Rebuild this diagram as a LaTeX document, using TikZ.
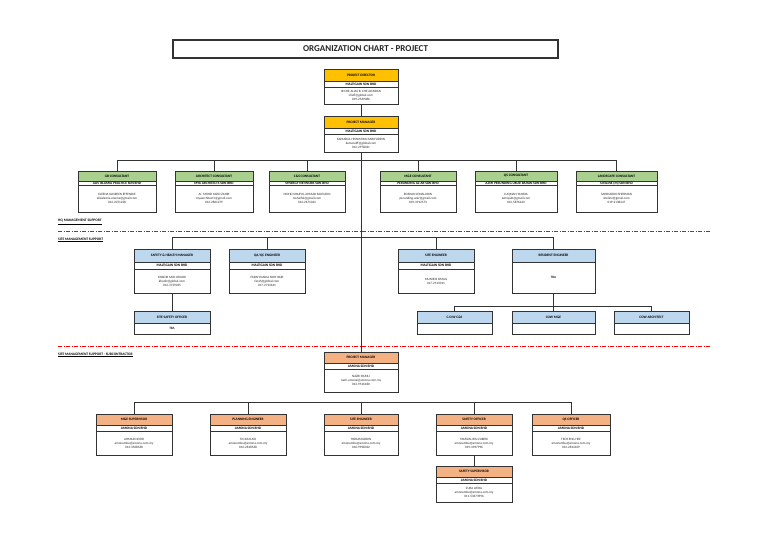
\documentclass[tikz,border=0pt]{standalone}
\usepackage{fontspec}
\setmainfont{Carlito}
\usetikzlibrary{fit}
\definecolor{hyel}{HTML}{FFC000}
\definecolor{hgrn}{HTML}{A9D08E}
\definecolor{hblu}{HTML}{BDD7EE}
\definecolor{horg}{HTML}{F4B183}
\definecolor{linec}{HTML}{333333}
\definecolor{divred}{HTML}{FF0000}
\tikzset{
 hdrtxt/.style={font=\fontsize{3.5}{4}\selectfont\bfseries, inner sep=0pt, text=black},
 comptxt/.style={font=\fontsize{3.5}{4}\selectfont\bfseries, inner sep=0pt, text=black},
 bodytxt/.style={font=\fontsize{3.3}{4}\selectfont, align=center, inner sep=0pt, text=black!85},
 conn/.style={draw=linec, line width=0.9pt},
 sect/.style={font=\fontsize{3.6}{4}\selectfont\bfseries, anchor=west, inner sep=0pt},
 redline/.style={draw=divred, line width=1pt, dash pattern=on 4pt off 1.5pt on 1pt off 1.5pt},
 outer/.style={draw=linec, line width=0.8pt, inner sep=0pt},
}
\def\HdrH{12}\def\CmpH{6}
% #1 name #2 x1 #3 x2 #4 y1 #5 y2 #6 colour #7 title #8 company #9 body
\newcommand\obox[9]{%
 \node[outer, fit={(#2,#4) (#3,#5)}] (#1) {};
 \fill[#6] (#2,#4) rectangle (#3,{#4+\HdrH});
 \draw[linec, line width=0.6pt] (#2,{#4+\HdrH}) -- (#3,{#4+\HdrH});
 \node[hdrtxt] (#1-t) at ({(#2+#3)/2},{#4+\HdrH/2}) {#7};
 \if\relax\detokenize{#8}\relax
   \node[bodytxt] (#1-b) at ({(#2+#3)/2},{(#4+\HdrH+#5)/2}) {#9};
 \else
   \draw[linec, line width=1pt] (#2,{#4+\HdrH+\CmpH}) -- (#3,{#4+\HdrH+\CmpH});
   \node[comptxt] (#1-c) at ({(#2+#3)/2},{#4+\HdrH+\CmpH/2}) {#8};
   \node[bodytxt] (#1-b) at ({(#2+#3)/2},{(#4+\HdrH+\CmpH+#5)/2}) {#9};
 \fi
 \draw[linec, line width=0.8pt] (#2,#4) rectangle (#3,#5);
}
\begin{document}
\begin{tikzpicture}[x=1pt,y=-1pt]
\useasboundingbox[fill=white] (0,0) rectangle (768,543);

% title
\node[draw=linec, line width=1.1pt, inner sep=0pt, fit={(173,40) (558,58)}] (title) {};
\node[font=\fontsize{9}{10}\selectfont\bfseries, text=black!85, inner sep=0pt] (titletxt) at (title.center) {ORGANIZATION CHART - PROJECT};

% top
\def\HdrH{12}\def\CmpH{6}
\obox{pd}{324}{398}{69}{104}{hyel}{PROJECT DIRECTOR}{MALTIGAIN SDN BHD}{IR CHE ALIAS B. CHE JAMIDAN\\chefl@global.com\\019-2569086}
\obox{pm}{324}{398}{116}{152}{hyel}{PROJECT MANAGER}{MALTIGAIN SDN BHD}{KAMARUL HISYAM BIN SARIFUDDIN\\kamarulff@global.com\\012-2978031}

% consultants
\def\HdrH{10}\def\CmpH{4.5}
\obox{c1}{78}{156}{171}{212}{hgrn}{GB CONSULTANT}{ALIS ISLAMIA PRACTICE SDN BHD}{ELEENA NASREEN EFFENDIE\\alisislamia.eleena@gmail.com\\012-2071228}
\obox{c2}{175}{253}{171}{212}{hgrn}{ARCHITECT CONSULTANT}{MYA ARCHITECTS SDN BHD}{Ar. MOHD YAZID ZAHIR\\myaarchitect1@gmail.com\\012-2801279}
\obox{c3}{269}{345}{171}{212}{hgrn}{C\&S CONSULTANT}{SYNERGY NETWORK SDN BHD}{MOHD SHAIFUL AHMAD SALEUDIN\\mshaiful@gmail.com\\012-2671024}
\obox{c4}{380}{456}{171}{212}{hgrn}{M\&E CONSULTANT}{PERUNDING AZ-AR SDN BHD}{ROSHAN JEMALUDIN\\perunding.azar@gmail.com\\019-3912573}
\obox{c5}{475}{557}{171}{212}{hgrn}{QS CONSULTANT}{AZMI PERUNDING UKUR BAHAN SDN BHD}{LUQMAN YAHAYA\\azmipub@gmail.com\\012-5876443}
\obox{c6}{576}{657}{171}{212}{hgrn}{LANDSCAPE CONSULTANT}{SITELINE (M) SDN BHD}{SAHRUDDIN SHERMAN\\siteline@gmail.com\\019-2138447}

% section labels
\node[sect] (lblhq) at (58,222) {\underline{HQ MANAGEMENT SUPPORT}};
\node[sect] (lblsite) at (58,240) {\underline{SITE MANAGEMENT SUPPORT}};
\node[sect] (lblsub) at (58,355) {\underline{SITE MANAGEMENT SUPPORT - SUBCONTRACTOR}};

% site management
\def\HdrH{13.5}\def\CmpH{6.5}
\obox{sh}{134}{210}{249}{293}{hblu}{SAFETY \& HEALTH MANAGER}{MALTIGAIN SDN BHD}{KHADIR SAID JOHARI\\khadir@global.com\\012-3759035}
\obox{qa}{229}{305}{249}{293}{hblu}{QA/QC ENGINEER}{MALTIGAIN SDN BHD}{FARAH NADIA NOR HARI\\farah@global.com\\017-2723441}
\obox{se}{398}{474}{249}{293}{hblu}{SITE ENGINEER}{MALTIGAIN SDN BHD}{MUNIR B ISMAIL\\017-2513011}
\obox{re}{512}{595}{249}{293}{hblu}{RESIDENT ENGINEER}{}{\textbf{TBA}}
\def\HdrH{12}
\obox{sso}{134}{210}{311}{334}{hblu}{SITE SAFETY OFFICER}{}{\textbf{TBA}}
\obox{cow1}{417}{492}{311}{334}{hblu}{C.O.W C\&S}{}{}
\obox{cow2}{512}{595}{311}{334}{hblu}{COW M\&E}{}{}
\obox{cow3}{614}{689}{311}{334}{hblu}{COW ARCHITECT}{}{}

% subcontractor
\def\HdrH{11}\def\CmpH{6}
\obox{spm}{324}{398}{352}{392}{horg}{PROJECT MANAGER}{AMONA SDN BHD}{NAZRI RAMLI\\nazri.amona@amona.com.my\\012-9516180}
\obox{b1}{96}{172}{414}{455}{horg}{M\&E SUPERVISOR}{AMONA SDN BHD}{AHMAD NOOR\\amonamba@amona.com.my\\013-3508568}
\obox{b2}{210}{286}{414}{455}{horg}{PLANNING ENGINEER}{AMONA SDN BHD}{TIO KAH AIK\\amonamba@amona.com.my\\012-2818568}
\obox{b3}{324}{398}{414}{455}{horg}{SITE ENGINEER}{AMONA SDN BHD}{HISHAMUDDIN\\amonamba@amona.com.my\\016-9928322}
\obox{b4}{436}{512}{414}{455}{horg}{SAFETY OFFICER}{AMONA SDN BHD}{SYAFIZAL BIN ZUBERI\\amonamba@amona.com.my\\019-3397996}
\obox{b5}{532}{610}{414}{455}{horg}{QS OFFICER}{AMONA SDN BHD}{TECH ENG HEE\\amonamba@amona.com.my\\012-2814109}
\obox{ss}{436}{512}{466}{502}{horg}{SAFETY SUPERVISOR}{AMONA SDN BHD}{ZURA AFIRA\\amonamba@amona.com.my\\011-53373996}

% connectors
\coordinate (cbus) at (361,160);
\coordinate (sbus) at (361,237);
\coordinate (rbus) at (553,306);
\coordinate (bbus) at (361,402);
\draw[conn] (pd.south) -- (pm.north);
\draw[conn] (pm.south) -- (spm.north);
\draw[conn] (c1.north) -- (c1.north|-cbus) -- (c6.north|-cbus) -- (c6.north);
\foreach \n in {c2,c3,c4,c5} \draw[conn] (\n.north) -- (\n.north|-cbus);
\draw[conn] (sh.north) -- (sh.north|-sbus) -- (re.north|-sbus) -- (re.north);
\foreach \n in {qa,se} \draw[conn] (\n.north) -- (\n.north|-sbus);
\draw[conn] (sh.south) -- (sso.north);
\draw[conn] (re.south) -- (re.south|-rbus);
\draw[conn] (cow1.north) -- (cow1.north|-rbus) -- (cow3.north|-rbus) -- (cow3.north);
\draw[conn] (cow2.north) -- (cow2.north|-rbus);
\draw[conn] (b1.north) -- (b1.north|-bbus) -- (b5.north|-bbus) -- (b5.north);
\foreach \n in {b2,b3,b4} \draw[conn] (\n.north) -- (\n.north|-bbus);
\draw[conn] (b4.south) -- (ss.north);

% red dividers (on top)
\coordinate (r1a) at (58,231.5); \coordinate (r1b) at (710,231.5);
\coordinate (r2a) at (58,346.5); \coordinate (r2b) at (710,346.5);
\draw[redline] (r2a) -- (r2b);
\draw[redline] (r1a) -- (r1b);
\end{tikzpicture}
\end{document}
